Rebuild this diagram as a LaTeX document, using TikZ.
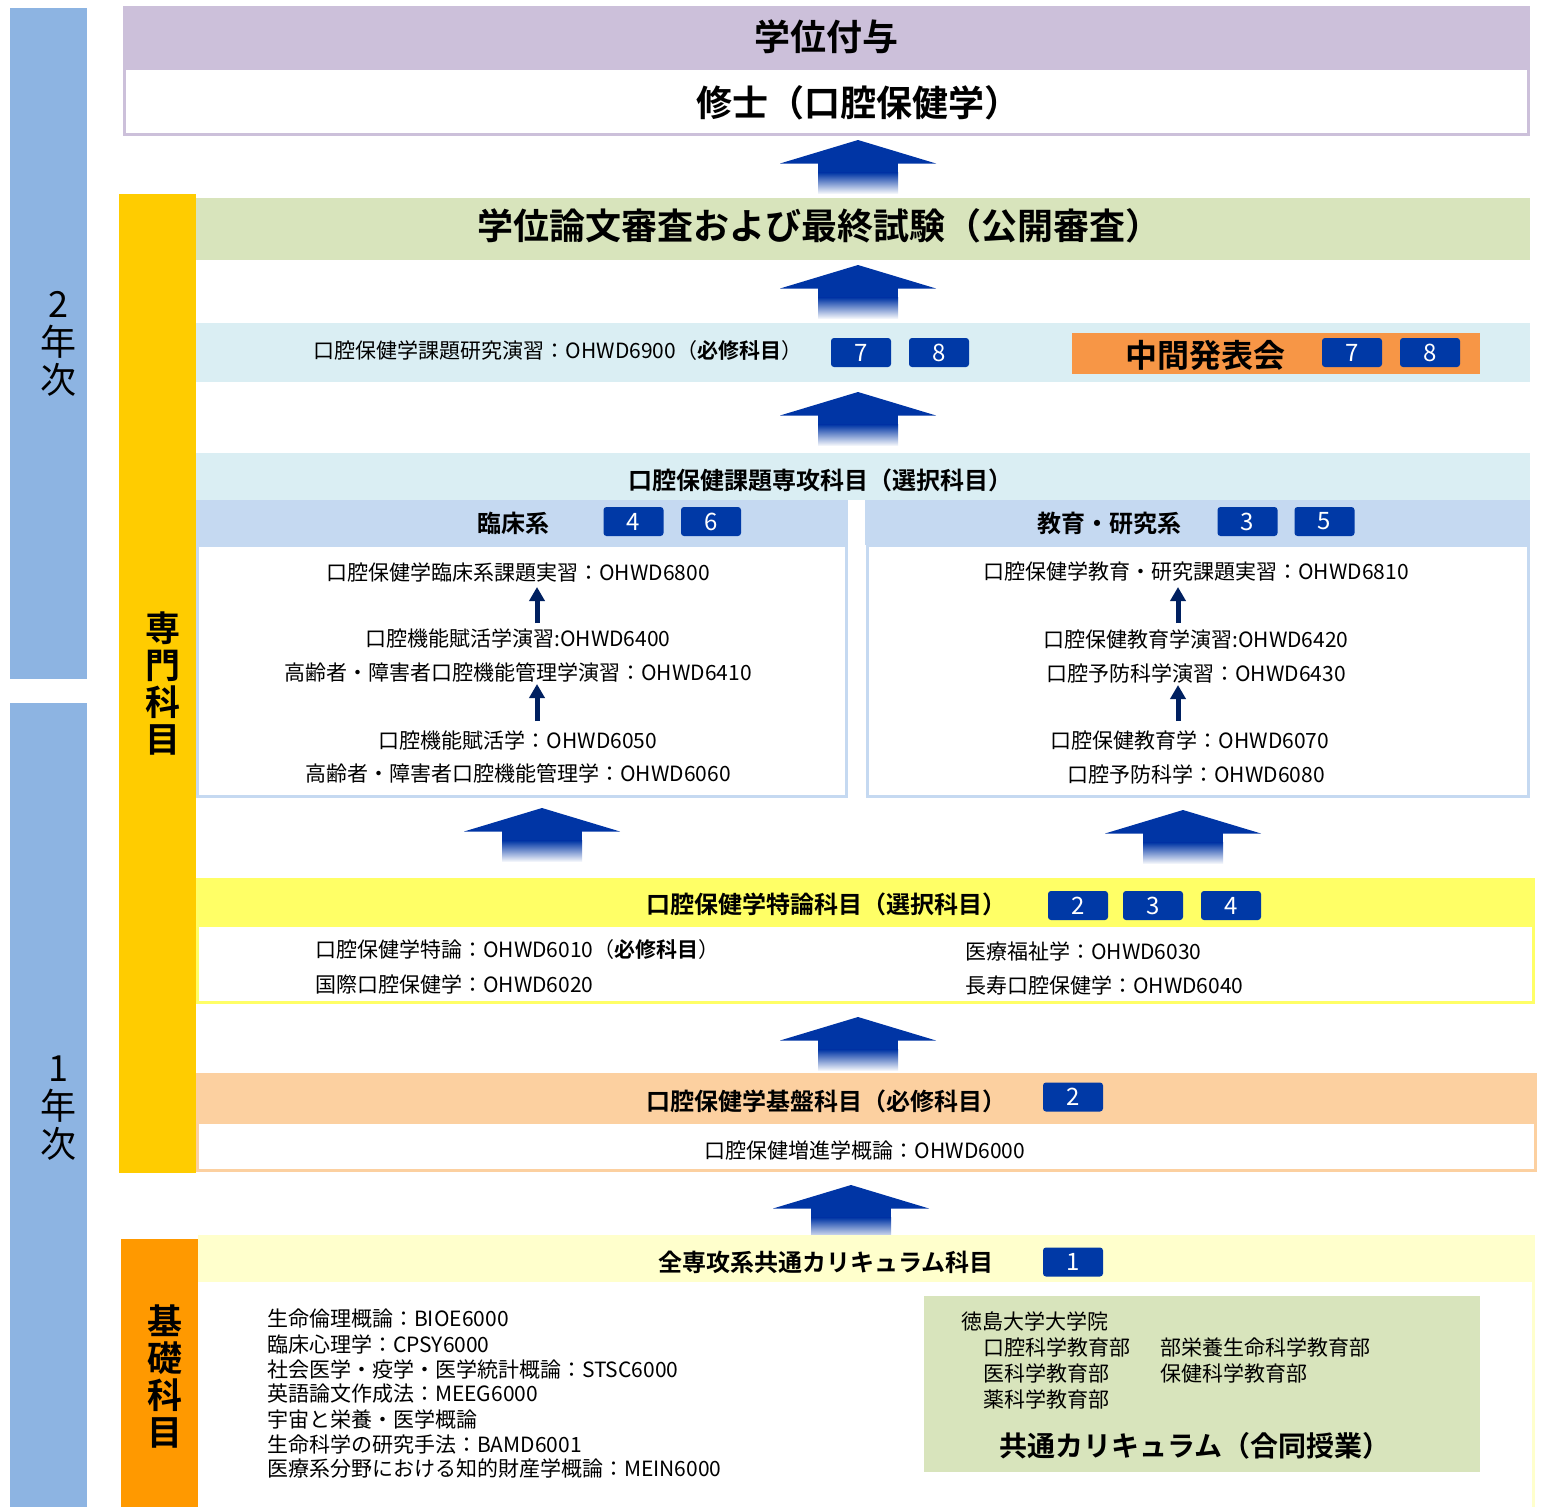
\documentclass[tikz,border=0pt]{standalone}
\usepackage{fontspec}
\setmainfont{Noto Sans CJK JP}[BoldFont={Noto Sans CJK JP Bold}]
\usetikzlibrary{arrows.meta}
\definecolor{yearblue}{HTML}{8DB4E2}
\definecolor{senyellow}{HTML}{FFCC00}
\definecolor{kisoorange}{HTML}{FF9900}
\definecolor{lav}{HTML}{CCC0DA}
\definecolor{lgreen}{HTML}{D8E4BC}
\definecolor{lblue}{HTML}{DAEEF3}
\definecolor{subblue}{HTML}{C5D9F1}
\definecolor{byellow}{HTML}{FFFF66}
\definecolor{peach}{HTML}{FCD0A0}
\definecolor{pyellow}{HTML}{FFFFCC}
\definecolor{midorange}{HTML}{F79646}
\definecolor{badgeblue}{HTML}{0039A6}
\definecolor{arrowblue}{HTML}{0035A5}
\definecolor{navyc}{HTML}{002060}
\tikzset{
  body/.style={font=\fontsize{21}{25}\selectfont, inner sep=0pt},
  head/.style={font=\fontsize{24}{28}\selectfont\bfseries, inner sep=0pt},
  bigtext/.style={font=\fontsize{36}{40}\selectfont\bfseries, inner sep=0pt},
  badge/.style={fill=badgeblue, rounded corners=3pt, minimum width=60pt, minimum height=29pt, inner sep=0pt, text=white, font=\fontsize{24}{24}\selectfont},
  smallarr/.style={draw=navyc, line width=5pt, -{Triangle[width=15pt,length=14pt]}},
  bigarr/.pic={
    \fill[arrowblue] (-78,23.5) -- (0,0) -- (78,23.5) -- cycle;
    \fill[arrowblue] (-40,23) rectangle (40,33);
    \shade[top color=arrowblue, bottom color=arrowblue!6] (-40,32.5) rectangle (40,53);
  }
}
\begin{document}
\begin{tikzpicture}[x=1pt,y=-1pt]
\useasboundingbox (0,0) rectangle (1543,1507);
\fill[white] (0,0) rectangle (1543,1507);

% year bars
\fill[yearblue] (10,8) rectangle (87,679);
\fill[yearblue] (10,703) rectangle (87,1507);
\node[align=center, font=\fontsize{36}{38}\selectfont, inner sep=0pt] (y2) at (58,344) {2\\年\\次};
\node[align=center, font=\fontsize{36}{38}\selectfont, inner sep=0pt] (y1) at (58,1108) {1\\年\\次};

% senmon bar
\fill[senyellow] (119,194) rectangle (196,1173);
\node[align=center, font=\fontsize{35}{37}\selectfont\bfseries, inner sep=0pt] (sen) at (163,684) {専\\門\\科\\目};

% kiso bar
\fill[kisoorange] (121,1239) rectangle (198,1507);
\node[align=center, font=\fontsize{35}{37}\selectfont\bfseries, inner sep=0pt] (kiso) at (165,1376) {基\\礎\\科\\目};

% top box
\fill[lav] (123,6) rectangle (1530,68);
\draw[lav, line width=3pt] (124.5,68) rectangle (1528.5,134.5);
\node[bigtext] (gakui) at (826,37) {学位付与};
\node[bigtext] (shushi) at (858,103) {修士（口腔保健学）};

\pic at (858,140) {bigarr};

% green banner
\fill[lgreen] (196,198) rectangle (1530,260);
\node[bigtext] (shinsa) at (819,226) {学位論文審査および最終試験（公開審査）};

\pic at (858,265) {bigarr};

% kadai kenkyu band
\fill[lblue] (196,323) rectangle (1530,382);
\node[body] (ohwd6900) at (558,351) {口腔保健学課題研究演習：OHWD6900（\textbf{必修科目}）};
\node[badge] (b7a) at (861,352.5) {7};
\node[badge] (b8a) at (939,352.5) {8};
\fill[midorange] (1072,333) rectangle (1480,374);
\node[font=\fontsize{32}{34}\selectfont\bfseries, inner sep=0pt] (chukan) at (1205,355) {中間発表会};
\node[badge] (b7b) at (1352,352.5) {7};
\node[badge] (b8b) at (1430,352.5) {8};

\pic at (858,392) {bigarr};

% senko kamoku
\fill[lblue] (196,453) rectangle (1530,500);
\node[head] (senko) at (820,480) {口腔保健課題専攻科目（選択科目）};

% left sub box
\fill[subblue] (196,500) rectangle (848,545);
\draw[subblue, line width=3pt] (197.5,545) rectangle (846.5,796.5);
\node[head] (rinsho) at (513,523) {臨床系};
\node[badge] (b4a) at (633.5,521.5) {4};
\node[badge] (b6a) at (711,521.5) {6};
\node[body] (l1) at (518,572) {口腔保健学臨床系課題実習：OHWD6800};
\node[body] (l2) at (518,638) {口腔機能賦活学演習:OHWD6400};
\node[body] (l3) at (518,672) {高齢者・障害者口腔機能管理学演習：OHWD6410};
\node[body] (l4) at (518,740) {口腔機能賦活学：OHWD6050};
\node[body] (l5) at (518,773) {高齢者・障害者口腔機能管理学：OHWD6060};
\coordinate (la1) at (537,623);
\coordinate (la2) at (537,587);
\coordinate (la3) at (537,721);
\coordinate (la4) at (537,684);
\draw[smallarr] (la1) -- (la2);
\draw[smallarr] (la3) -- (la4);

% right sub box
\fill[subblue] (865,500) rectangle (1530,545);
\draw[subblue, line width=3pt] (867.5,545) rectangle (1528.5,796.5);
\node[head] (kyoiku) at (1109,523) {教育・研究系};
\node[badge] (b3a) at (1247.5,521.5) {3};
\node[badge] (b5a) at (1324.5,521.5) {5};
\node[body] (r1) at (1196,572) {口腔保健学教育・研究課題実習：OHWD6810};
\node[body] (r2) at (1196,639) {口腔保健教育学演習:OHWD6420};
\node[body] (r3) at (1196,673) {口腔予防科学演習：OHWD6430};
\node[body] (r4) at (1190,740) {口腔保健教育学：OHWD6070};
\node[body] (r5) at (1196,774) {口腔予防科学：OHWD6080};
\coordinate (ra1) at (1178,623);
\coordinate (ra2) at (1178,587);
\coordinate (ra3) at (1178,721);
\coordinate (ra4) at (1178,685);
\draw[smallarr] (ra1) -- (ra2);
\draw[smallarr] (ra3) -- (ra4);

\pic at (542,808) {bigarr};
\pic at (1183,810) {bigarr};

% tokuron
\fill[byellow] (196,878) rectangle (1535,925);
\draw[byellow, line width=3pt] (197.5,925) rectangle (1533.5,1002);
\node[head] (tokuron) at (826,904) {口腔保健学特論科目（選択科目）};
\node[badge] (b2a) at (1078,905.5) {2};
\node[badge] (b3b) at (1153,905.5) {3};
\node[badge] (b4b) at (1231,905.5) {4};
\node[body, anchor=west] (t1) at (315,950) {口腔保健学特論：OHWD6010（\textbf{必修科目}）};
\node[body, anchor=west] (t2) at (315,984) {国際口腔保健学：OHWD6020};
\node[body, anchor=west] (t3) at (965,951) {医療福祉学：OHWD6030};
\node[body, anchor=west] (t4) at (965,985) {長寿口腔保健学：OHWD6040};

\pic at (858,1017) {bigarr};

% kiban
\fill[peach] (196,1073) rectangle (1537,1122);
\draw[peach, line width=3pt] (197.5,1122) rectangle (1535.5,1170);
\node[head] (kiban) at (826,1101) {口腔保健学基盤科目（必修科目）};
\node[badge] (b2b) at (1073,1097) {2};
\node[body] (k1) at (865,1150) {口腔保健増進学概論：OHWD6000};

\pic at (851,1185) {bigarr};

% kyotsu
\fill[pyellow] (198,1235) rectangle (1535,1282);
\draw[pyellow, line width=3pt] (1533.5,1282) -- (1533.5,1507);
\node[head] (zensenko) at (826,1262) {全専攻系共通カリキュラム科目};
\node[badge] (b1) at (1073,1262) {1};
\node[body, anchor=west] (c1) at (267,1319) {生命倫理概論：BIOE6000};
\node[body, anchor=west] (c2) at (267,1344) {臨床心理学：CPSY6000};
\node[body, anchor=west] (c3) at (267,1369) {社会医学・疫学・医学統計概論：STSC6000};
\node[body, anchor=west] (c4) at (267,1394) {英語論文作成法：MEEG6000};
\node[body, anchor=west] (c5) at (267,1419) {宇宙と栄養・医学概論};
\node[body, anchor=west] (c6) at (267,1444) {生命科学の研究手法：BAMD6001};
\node[body, anchor=west] (c7) at (267,1469) {医療系分野における知的財産学概論：MEIN6000};

\fill[lgreen] (924,1296) rectangle (1480,1472);
\node[body, anchor=west] (g0) at (961,1321) {徳島大学大学院};
\node[body, anchor=west] (g1) at (983,1347) {口腔科学教育部};
\node[body, anchor=west] (g2) at (1160,1347) {部栄養生命科学教育部};
\node[body, anchor=west] (g3) at (983,1373) {医科学教育部};
\node[body, anchor=west] (g4) at (1160,1373) {保健科学教育部};
\node[body, anchor=west] (g5) at (983,1399) {薬科学教育部};
\node[font=\fontsize{28}{30}\selectfont\bfseries, inner sep=0pt] (godo) at (1195,1446) {共通カリキュラム（合同授業）};
\end{tikzpicture}
\end{document}
